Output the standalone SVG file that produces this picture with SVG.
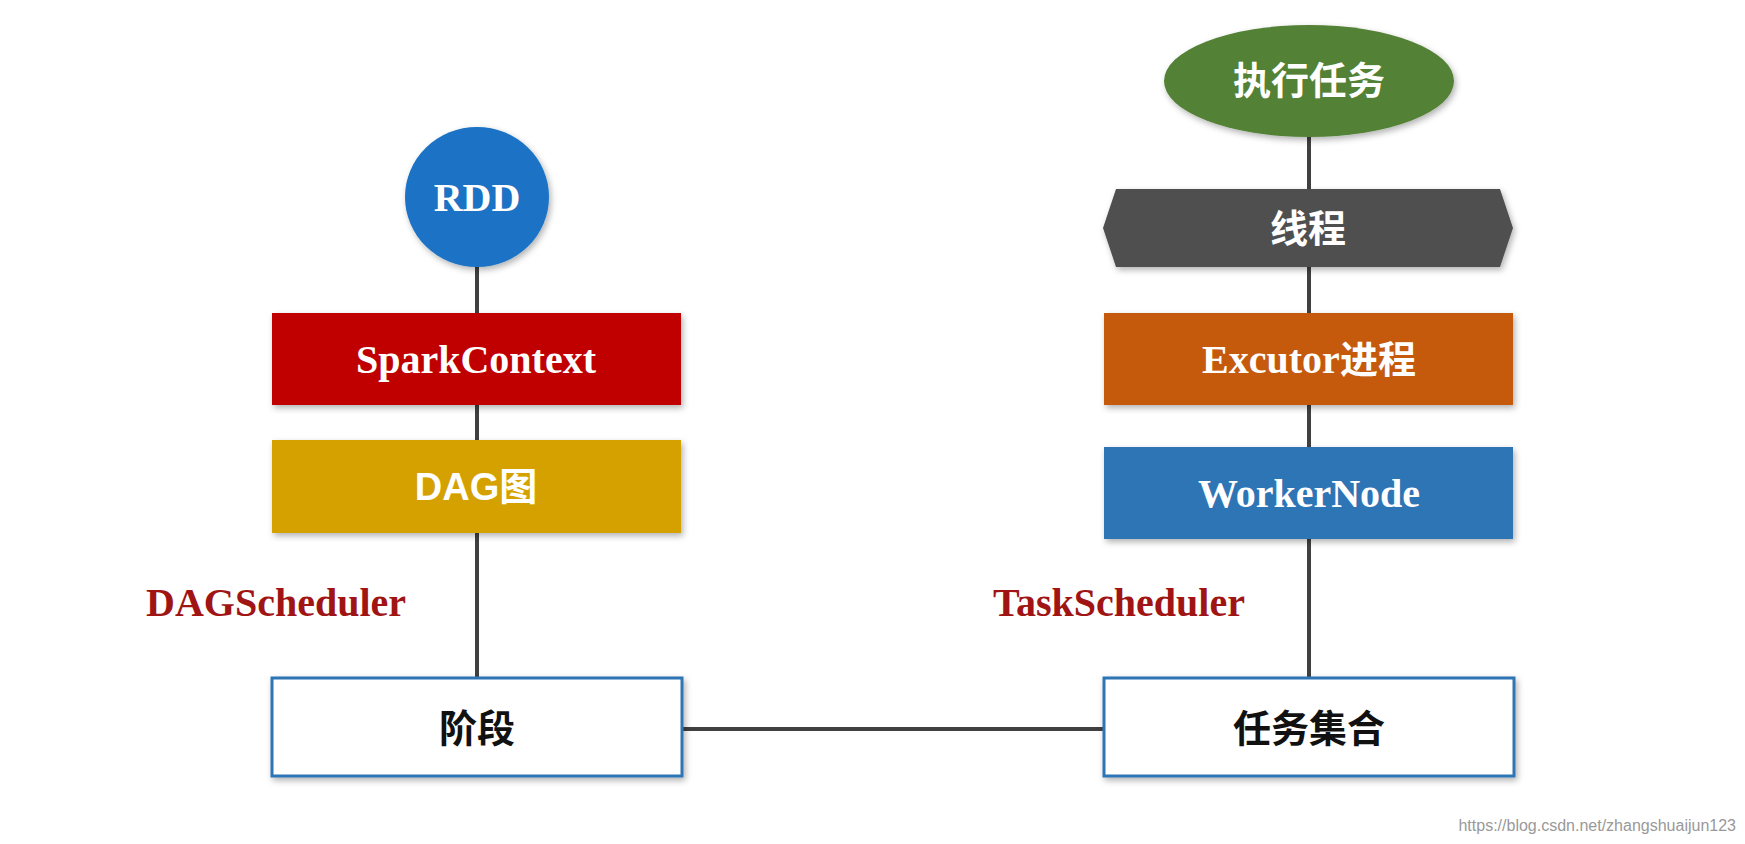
<svg xmlns="http://www.w3.org/2000/svg" width="1745" height="844" viewBox="0 0 1745 844">
<defs>
<filter id="sh" x="-10%" y="-10%" width="125%" height="130%"><feDropShadow dx="2" dy="3" stdDeviation="3" flood-color="#000" flood-opacity="0.3"/></filter>
</defs>
<style>
.ser{font-family:"Liberation Serif",serif;font-weight:bold;fill:#fff;font-size:40px;text-anchor:middle}
.cn{font-family:"Liberation Sans","Noto Sans CJK SC",sans-serif;font-weight:bold;font-size:38px;text-anchor:middle}
.lbl{font-family:"Liberation Serif",serif;font-weight:bold;fill:#a01414;font-size:40px;text-anchor:middle}
.wb{fill:#fff;stroke:#2e75b6;stroke-width:3}
</style>
<rect width="1745" height="844" fill="#fff"/>
<g id="connectors" stroke="#404040" stroke-width="4" fill="none">
<line x1="477" y1="260" x2="477" y2="678"/>
<line x1="1309" y1="130" x2="1309" y2="678"/>
<line x1="682" y1="729" x2="1104" y2="729"/>
</g>
<g id="rdd"><ellipse cx="477" cy="197" rx="72" ry="70" fill="#1a72c4" filter="url(#sh)"/><text class="ser" x="477" y="211">RDD</text></g>
<g id="sparkcontext"><rect x="272" y="313" width="409" height="92" fill="#c00000" filter="url(#sh)"/><text class="ser" x="476" y="373">SparkContext</text></g>
<g id="dag"><rect x="272" y="440" width="409" height="93" fill="#d4a100" filter="url(#sh)"/><text class="cn" x="476" y="500" fill="#fff">DAG图</text></g>
<g id="dagscheduler"><text class="lbl" x="276" y="616">DAGScheduler</text></g>
<g id="stage"><rect class="wb" x="272" y="678" width="410" height="98" filter="url(#sh)"/><text class="cn" x="477" y="742" fill="#111">阶段</text></g>
<g id="exec"><ellipse cx="1309" cy="81" rx="145" ry="56" fill="#538135" filter="url(#sh)"/><text class="cn" x="1309" y="94" fill="#fff">执行任务</text></g>
<g id="thread"><polygon points="1116,189 1500,189 1513,228 1500,267 1116,267 1103,228" fill="#505050" filter="url(#sh)"/><text class="cn" x="1308" y="242" fill="#fff">线程</text></g>
<g id="executor"><rect x="1104" y="313" width="409" height="92" fill="#c55a11" filter="url(#sh)"/><text class="ser" x="1309" y="373">Excutor<tspan font-family="Liberation Sans,Noto Sans CJK SC,sans-serif" font-size="38">进程</tspan></text></g>
<g id="workernode"><rect x="1104" y="447" width="409" height="92" fill="#2e75b6" filter="url(#sh)"/><text class="ser" x="1309" y="507">WorkerNode</text></g>
<g id="taskscheduler"><text class="lbl" x="1119" y="616">TaskScheduler</text></g>
<g id="taskset"><rect class="wb" x="1104" y="678" width="410" height="98" filter="url(#sh)"/><text class="cn" x="1309" y="742" fill="#111">任务集合</text></g>
<text x="1736" y="831" font-family="Liberation Sans,sans-serif" font-size="16" fill="#999" text-anchor="end">https://blog.csdn.net/zhangshuaijun123</text>
</svg>
